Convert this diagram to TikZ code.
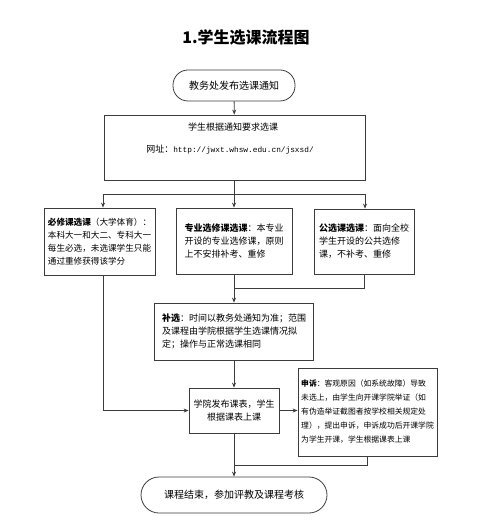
\documentclass[tikz,border=0pt]{standalone}
\usepackage{fontspec}
\setmainfont{Noto Sans CJK SC}
\setmonofont{Liberation Mono}
\usetikzlibrary{arrows.meta,positioning}

\definecolor{linegray}{HTML}{3C3C3C}

\tikzset{
  box/.style={draw=linegray, line width=0.8pt, align=left, inner sep=2pt,
              font=\fontsize{9}{13}\selectfont},
  term/.style={draw=linegray, line width=0.8pt, font=\fontsize{10}{12}\selectfont},
  flow/.style={draw=linegray, line width=0.8pt, -{Stealth[length=5pt,width=4pt]}},
  link/.style={draw=linegray, line width=0.8pt},
}

\begin{document}
\begin{tikzpicture}[x=1pt,y=-1pt]
    \useasboundingbox (0,0) rectangle (500,526);

    \node[font=\fontsize{16}{18}\selectfont\bfseries] (title) at (246,37) {1.学生选课流程图};

    % start and notice
    \node[term, minimum width=122pt, minimum height=31pt, rounded corners=15pt] (start) at (234,85.5) {教务处发布选课通知};
    \node[box, minimum width=261pt, minimum height=65pt] (notice) at (234.5,147.5) {};
    \node[font=\fontsize{9}{11}\selectfont] (noticeText) at (233,127) {学生根据通知要求选课};
    \node[font=\fontsize{9}{11}\selectfont] (noticeUrl) at (230,150) {网址：{\ttfamily\fontsize{7.8}{10}\selectfont http://jwxt.whsw.edu.cn/jsxsd/}};

    % three kinds of courses
    \node[box, minimum width=111pt, minimum height=67pt, font=\fontsize{8.6}{13}\selectfont] (must) at (99.5,241.5)
        {\textbf{必修课选课}（大学体育）：\\本科大一和大二、专科大一\\每生必选，未选课学生只能\\通过重修获得该学分};
    \node[box, minimum width=116pt, minimum height=66pt] (major) at (234,241)
        {\textbf{专业选修课选课}：本专业\\开设的专业选修课，原则\\上不安排补考、重修};
    \node[box, minimum width=100pt, minimum height=65pt] (public) at (364,241.5)
        {\textbf{公选课选课}：面向全校\\学生开设的公共选修\\课，不补考、重修};

    \node[box, minimum width=159pt, minimum height=57pt] (supp) at (234,331.5)
        {\textbf{补选}：时间以教务处通知为准；范围\\及课程由学院根据学生选课情况拟\\定；操作与正常选课相同};

    \node[box, align=center, minimum width=90pt, minimum height=45pt] (college) at (234,410.5)
        {学院发布课表，学生\\根据课表上课};
    \node[box, minimum width=139pt, minimum height=88pt, font=\fontsize{7.8}{14}\selectfont] (appeal) at (367.5,412)
        {\textbf{申诉}：客观原因（如系统故障）导致\\未选上，由学生向开课学院举证（如\\有伪造举证截图者按学校相关规定处\\理），提出申诉，申诉成功后开课学院\\为学生开课，学生根据课表上课};

    \node[term, minimum width=186pt, minimum height=36pt, rounded corners=18pt] (finish) at (234,495) {课程结束，参加评教及课程考核};

    % connectors
    \coordinate (split) at (234,194);
    \coordinate (splitL) at (103,194);
    \coordinate (splitR) at (365,194);
    \coordinate (join) at (234,288);
    \coordinate (join2) at (234,465);

    \draw[flow] (start) -- (notice);
    \draw[link] (notice.south -| split) -- (split);
    \draw[link] (splitL) -- (splitR);
    \draw[flow] (splitL) -- (splitL |- must.north);
    \draw[flow] (split) -- (major.north);
    \draw[flow] (splitR) -- (splitR |- public.north);
    \draw[link] (public.south) |- (join);
    \draw[flow] (major.south) -- (supp.north);
    \draw[flow] (must.south -| splitL) |- (college.west);
    \draw[flow] (supp) -- (college);
    \draw[flow] (college.east) -- (college.east -| appeal.west);
    \draw[link] (appeal.south) |- (join2);
    \draw[flow] (college) -- (finish);
\end{tikzpicture}
\end{document}
